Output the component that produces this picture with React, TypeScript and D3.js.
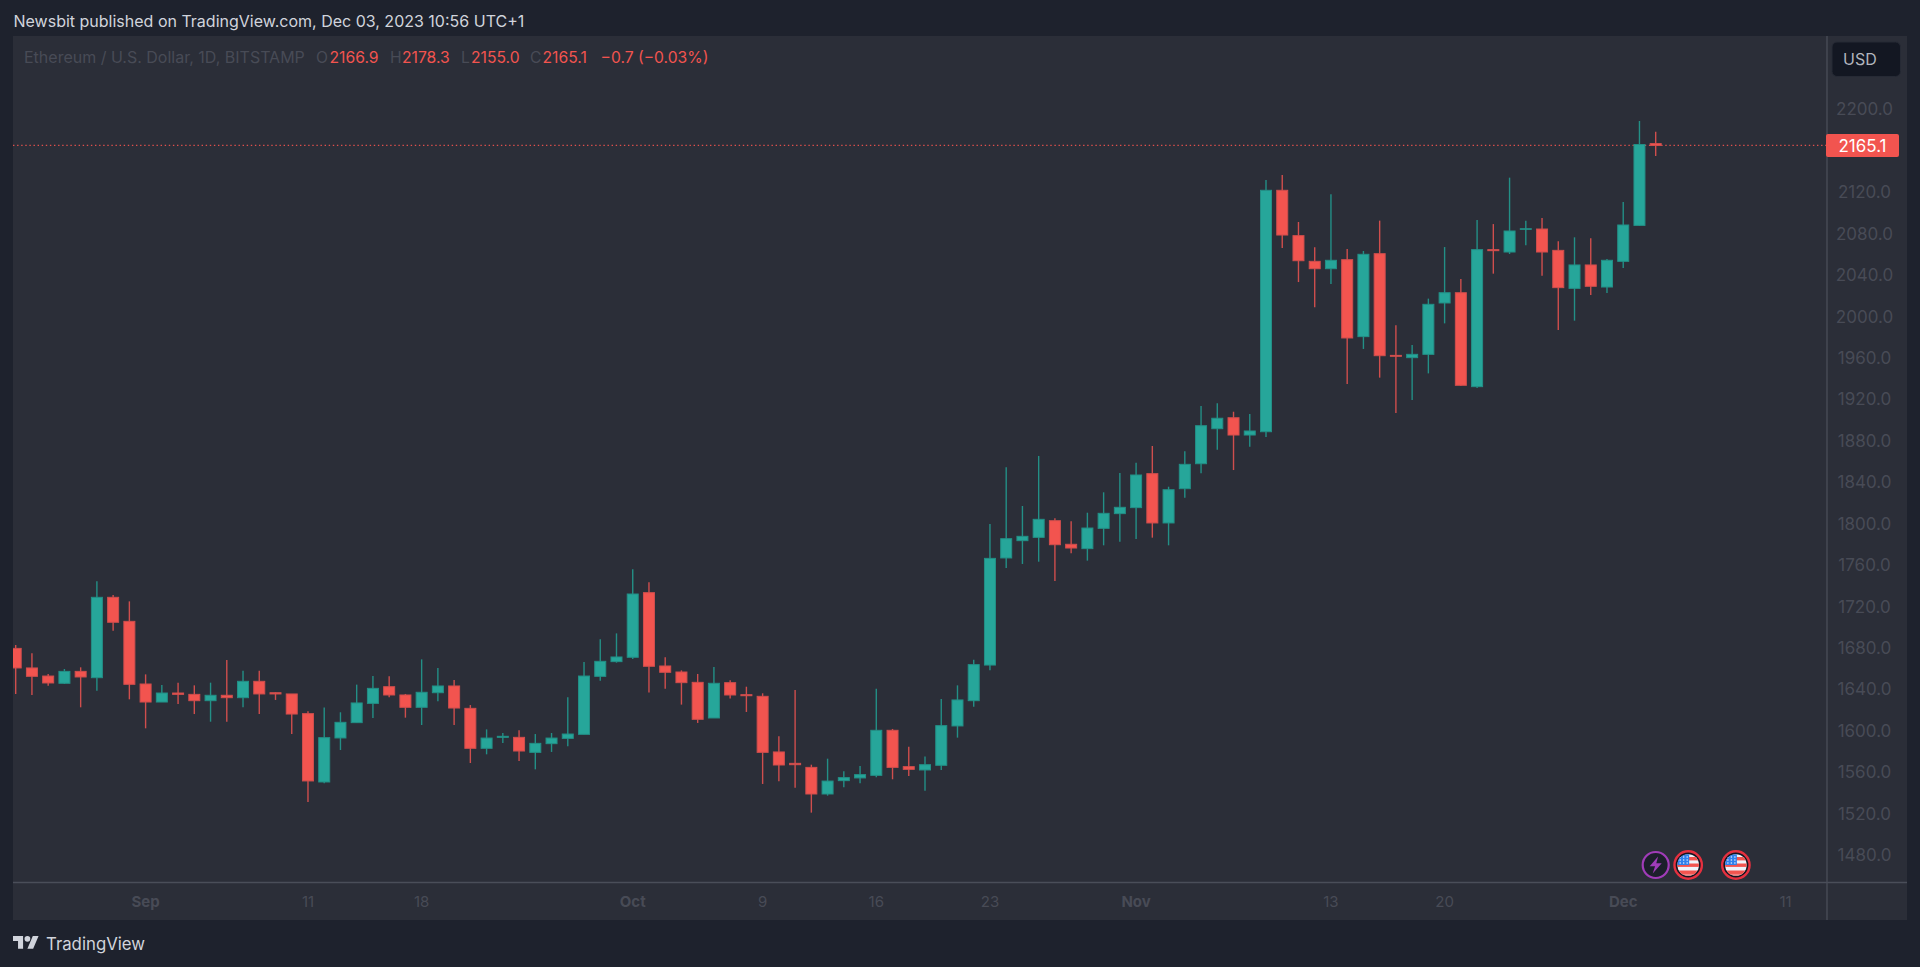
import React from "react";
import * as d3 from "d3";

// ETH/USD daily candles, 24 Aug - 3 Dec 2023
const opens = [
  1679.5, 1660.6, 1652.8, 1645.8, 1657.3, 1651.2, 1728.8, 1705.6, 1645.1, 1627.7,
  1636.4, 1635.1, 1629.0, 1634.2, 1631.9, 1647.7, 1636.7, 1635.5, 1616.5, 1550.5,
  1593.0, 1607.8, 1626.4, 1642.5, 1634.5, 1622.6, 1636.7, 1643.2, 1621.6, 1583.0,
  1593.6, 1593.6, 1579.1, 1587.5, 1592.6, 1596.5, 1652.5, 1666.7, 1670.9, 1733.3,
  1662.5, 1656.7, 1646.7, 1612.3, 1646.4, 1634.8, 1633.2, 1579.5, 1568.5, 1564.6,
  1538.9, 1551.8, 1554.4, 1556.9, 1600.4, 1565.3, 1562.1, 1566.6, 1604.6, 1629.0,
  1663.4, 1766.8, 1783.5, 1786.7, 1802.8, 1780.0, 1775.8, 1795.4, 1809.6, 1815.4,
  1848.2, 1800.6, 1833.7, 1857.8, 1891.6, 1902.2, 1885.5, 1888.7, 2121.8, 2078.0,
  2053.2, 2046.1, 2054.8, 1980.5, 2060.6, 1962.4, 1960.2, 1963.4, 2013.0, 2022.9,
  1932.2, 2064.5, 2062.2, 2084.1, 2084.4, 2063.8, 2027.1, 2049.7, 2028.4, 2053.2,
  2087.9, 2166.9,
];
const highs = [
  1682.8, 1674.7, 1654.8, 1659.6, 1661.2, 1744.2, 1731.0, 1724.9, 1654.4, 1644.1,
  1646.4, 1643.8, 1646.4, 1668.3, 1658.0, 1658.0, 1637.1, 1635.5, 1618.7, 1622.3,
  1617.8, 1644.5, 1652.8, 1652.5, 1635.5, 1668.9, 1660.6, 1649.0, 1624.8, 1601.3,
  1597.8, 1600.4, 1596.8, 1597.8, 1632.2, 1666.4, 1688.2, 1694.0, 1755.8, 1743.3,
  1670.9, 1658.3, 1654.8, 1661.5, 1648.7, 1642.5, 1636.1, 1594.6, 1639.3, 1567.2,
  1573.0, 1560.8, 1565.9, 1640.6, 1601.7, 1584.6, 1575.0, 1630.6, 1643.8, 1668.6,
  1799.6, 1854.3, 1817.0, 1865.3, 1805.1, 1802.2, 1810.5, 1830.2, 1848.8, 1858.8,
  1874.9, 1835.6, 1869.8, 1913.5, 1916.1, 1908.0, 1905.8, 2131.7, 2136.6, 2091.2,
  2066.7, 2117.9, 2065.1, 2063.2, 2092.5, 1991.4, 1972.4, 2017.2, 2067.0, 2036.1,
  2093.1, 2089.2, 2134.0, 2092.5, 2095.0, 2072.5, 2076.4, 2075.4, 2055.5, 2110.5,
  2188.7, 2178.3,
];
const lows = [
  1635.5, 1634.5, 1643.5, 1645.1, 1622.6, 1638.7, 1696.6, 1630.3, 1602.3, 1627.7,
  1625.8, 1616.1, 1608.7, 1608.7, 1622.6, 1616.1, 1629.7, 1596.8, 1531.2, 1549.2,
  1581.4, 1607.8, 1612.3, 1632.2, 1612.6, 1605.5, 1628.4, 1605.5, 1568.8, 1577.2,
  1588.2, 1570.8, 1562.7, 1579.5, 1584.9, 1596.5, 1648.3, 1665.7, 1669.2, 1636.8,
  1640.6, 1625.2, 1607.5, 1612.3, 1631.0, 1618.1, 1548.6, 1551.1, 1545.0, 1520.9,
  1537.3, 1545.4, 1549.2, 1555.0, 1553.1, 1556.3, 1542.1, 1562.1, 1593.3, 1623.2,
  1658.3, 1757.1, 1761.0, 1763.2, 1744.6, 1771.3, 1764.2, 1779.0, 1782.5, 1785.1,
  1786.4, 1779.0, 1825.0, 1848.6, 1871.3, 1851.7, 1874.2, 1883.6, 2066.1, 2033.2,
  2008.8, 2031.3, 1934.8, 1968.6, 1940.9, 1906.8, 1919.3, 1945.0, 1993.3, 1932.8,
  1930.9, 2041.3, 2060.3, 2068.7, 2039.4, 1986.9, 1995.9, 2020.7, 2022.6, 2046.8,
  2087.3, 2155.0,
];
const closes = [
  1660.6, 1652.5, 1646.1, 1657.3, 1651.9, 1728.8, 1704.7, 1644.8, 1627.7, 1636.4,
  1635.1, 1629.0, 1634.2, 1631.9, 1647.7, 1635.5, 1635.5, 1616.1, 1551.5, 1593.3,
  1608.1, 1626.8, 1640.9, 1634.5, 1622.6, 1637.1, 1643.2, 1621.9, 1583.0, 1592.9,
  1594.6, 1580.4, 1587.8, 1592.9, 1596.8, 1652.8, 1667.0, 1671.2, 1732.0, 1662.2,
  1656.4, 1646.4, 1611.0, 1645.8, 1634.5, 1633.8, 1579.1, 1566.9, 1567.2, 1538.9,
  1551.4, 1554.7, 1557.6, 1600.4, 1564.6, 1562.7, 1567.2, 1604.9, 1629.7, 1663.8,
  1766.4, 1785.4, 1787.7, 1804.1, 1779.6, 1776.4, 1795.7, 1809.9, 1815.7, 1846.9,
  1800.6, 1832.7, 1857.2, 1894.5, 1901.7, 1885.5, 1889.4, 2121.8, 2078.6, 2053.8,
  2046.1, 2054.2, 1979.2, 2060.0, 1962.1, 1961.5, 1963.4, 2011.7, 2022.9, 1933.5,
  2064.5, 2063.5, 2082.5, 2084.7, 2062.2, 2027.8, 2049.7, 2029.1, 2054.2, 2088.3,
  2166.0, 2165.1,
];

const priceTicks = [
  2200, 2120, 2080, 2040, 2000, 1960, 1920, 1880, 1840, 1800, 1760, 1720, 1680,
  1640, 1600, 1560, 1520, 1480,
];
const timeTicks = [
  { date: "2023-09-01", label: "Sep", bold: true },
  { date: "2023-09-11", label: "11", bold: false },
  { date: "2023-09-18", label: "18", bold: false },
  { date: "2023-10-01", label: "Oct", bold: true },
  { date: "2023-10-09", label: "9", bold: false },
  { date: "2023-10-16", label: "16", bold: false },
  { date: "2023-10-23", label: "23", bold: false },
  { date: "2023-11-01", label: "Nov", bold: true },
  { date: "2023-11-13", label: "13", bold: false },
  { date: "2023-11-20", label: "20", bold: false },
  { date: "2023-12-01", label: "Dec", bold: true },
  { date: "2023-12-11", label: "11", bold: false },
];
const flagEvents = ["2023-12-05", "2023-12-08"];
const newsEvent = "2023-12-03";

const legendParts = [
  { x: 24, text: "Ethereum / U.S. Dollar, 1D, BITSTAMP", dim: true },
  { x: 316, text: "O", dim: true },
  { x: 329.5, text: "2166.9", dim: false },
  { x: 390, text: "H", dim: true },
  { x: 402, text: "2178.3", dim: false },
  { x: 461, text: "L", dim: true },
  { x: 471, text: "2155.0", dim: false },
  { x: 530, text: "C", dim: true },
  { x: 542.5, text: "2165.1", dim: false },
  { x: 600.5, text: "\u22120.7 (\u22120.03%)", dim: false },
];

const UP = "#26a69a";
const DOWN = "#f2544f";
const FONT = "Inter, 'Noto Sans', sans-serif";
const DIM = "#484b56";

const day = (s: string) => new Date(s + "T00:00:00Z");

const x = d3
  .scaleUtc()
  .domain([day("2023-08-24"), day("2023-12-03")])
  .range([15.7, 1655.7]);
const y = d3.scaleLinear().domain([2200, 1480]).range([109.3, 855]);

const candles = opens.map((open, i) => ({
  date: d3.utcDay.offset(day("2023-08-24"), i),
  open,
  high: highs[i],
  low: lows[i],
  close: closes[i],
}));

function UsFlag({ cx, id }: { cx: number; id: string }) {
  const cy = 865;
  return (
    <g>
      <circle cx={cx} cy={cy} r={13.7} fill="#131722" stroke="#e5303f" strokeWidth={2.4} />
      <clipPath id={id}>
        <circle cx={cx} cy={cy} r={10.8} />
      </clipPath>
      <g clipPath={`url(#${id})`}>
        <rect x={cx - 11} y={cy - 11} width={22} height={22} fill="#f0f3fa" />
        {[-8, -1.5, 5.5].map((d) => (
          <rect key={d} x={cx - 11} y={cy + d} width={22} height={3.4} fill="#f2544f" />
        ))}
        <rect x={cx - 11} y={cy + 8} width={22} height={3} fill="#f2544f" opacity={0.7} />
        <rect x={cx - 11} y={cy - 11} width={12} height={11} fill="#2f80ed" />
        {[-8, -4.5, -1].map((dx) =>
          [-8, -5, -2].map((dy) => (
            <circle key={dx + "_" + dy} cx={cx + dx} cy={cy + dy} r={0.8} fill="#dfe8fa" />
          ))
        )}
      </g>
    </g>
  );
}

export default function App() {
  const bw = 11;
  const last = closes[closes.length - 1];
  return (
    <>
      <style>{"body{margin:0;background:#1e222d}"}</style>
      <svg width={1920} height={967} style={{ display: "block" }} fontFamily={FONT}>
        <rect width={1920} height={967} fill="#1e222d" />
        <rect x={13} y={36} width={1894} height={884} fill="#2b2e38" />

        <text x={13.5} y={27} fontSize={16} fill="#d1d4dc">
          Newsbit published on TradingView.com, Dec 03, 2023 10:56 UTC+1
        </text>

        {legendParts.map((p, i) => (
          <text key={p.x} x={p.x} y={63} fontSize={i === 0 ? 16 : 15.7} fill={p.dim ? DIM : DOWN}>
            {p.text}
          </text>
        ))}

        <clipPath id="pane">
          <rect x={13} y={36} width={1814} height={846} />
        </clipPath>

        <line
          x1={13}
          x2={1827}
          y1={y(last)}
          y2={y(last)}
          stroke={DOWN}
          strokeWidth={1.3}
          strokeDasharray="1.4 2.7"
          opacity={0.9}
        />

        <g clipPath="url(#pane)">
          {candles.map((c) => {
            const color = c.close >= c.open ? UP : DOWN;
            const dark = c.close >= c.open ? "#238f86" : "#cf4e4d";
            const cx = x(c.date);
            const top = y(Math.max(c.open, c.close));
            const bottom = y(Math.min(c.open, c.close));
            return (
              <g key={+c.date}>
                <line x1={cx} x2={cx} y1={y(c.high)} y2={y(c.low)} stroke={dark} strokeWidth={1.4} />
                <rect
                  x={cx - bw / 2}
                  y={top}
                  width={bw}
                  height={Math.max(bottom - top, 0.6)}
                  fill={color}
                  stroke={dark}
                  strokeWidth={1}
                />
              </g>
            );
          })}
        </g>

        {/* events */}
        <circle cx={x(day(newsEvent))} cy={865} r={13} fill="#1c1f2b" stroke="#a03cb8" strokeWidth={2.2} />
        <path
          transform={`translate(${x(day(newsEvent)) - 8.4},856.6) scale(1.2)`}
          d="M9 0 L2 8 L6.5 8 L4.5 14 L12 5.5 L7.5 5.5 Z"
          fill="#a03cb8"
        />
        {flagEvents.map((d, i) => (
          <UsFlag key={d} cx={x(day(d)) - (i === 1 ? 1 : 0)} id={"flag" + i} />
        ))}

        {/* axes */}
        <line x1={13} x2={1907} y1={882.5} y2={882.5} stroke="#4a4e59" strokeWidth={1.3} />
        <line x1={1827} x2={1827} y1={36} y2={920} stroke="#4a4e59" strokeWidth={1.3} />

        {priceTicks.map((t) => (
          <text key={t} x={1864.5} y={y(t)} dy="0.36em" textAnchor="middle" fontSize={17} fill={DIM}>
            {y.tickFormat(1, ".1f")(t)}
          </text>
        ))}
        {timeTicks.map((t) => (
          <text
            key={t.date}
            x={x(day(t.date))}
            y={902}
            dy="0.36em"
            textAnchor="middle"
            fontSize={15}
            fontWeight={t.bold ? 700 : 400}
            fill={DIM}
          >
            {t.label}
          </text>
        ))}

        {/* last price tag */}
        <rect x={1826} y={134} width={73} height={23} rx={2} fill="#f2544f" />
        <text x={1862.5} y={y(last)} dy="0.36em" textAnchor="middle" fontSize={17} fill="#fff">
          {y.tickFormat(1, ".1f")(last)}
        </text>

        {/* currency button */}
        <rect x={1832} y={42} width={68.5} height={34.5} rx={5} fill="#131722" stroke="#262a35" />
        <text x={1843} y={59} dy="0.36em" fontSize={16} fill="#b2b5be">
          USD
        </text>

        {/* logo */}
        <g transform="translate(13,933) scale(0.72)" fill="#d1d4dc">
          <path d="M14 22H7V11H0V4h14v18zM28 22h-8l7.5-18h8L28 22z" />
          <circle cx={20} cy={8} r={4} />
        </g>
        <text x={46} y={950} fontSize={16.8} fill="#d1d4dc">
          TradingView
        </text>
      </svg>
    </>
  );
}
